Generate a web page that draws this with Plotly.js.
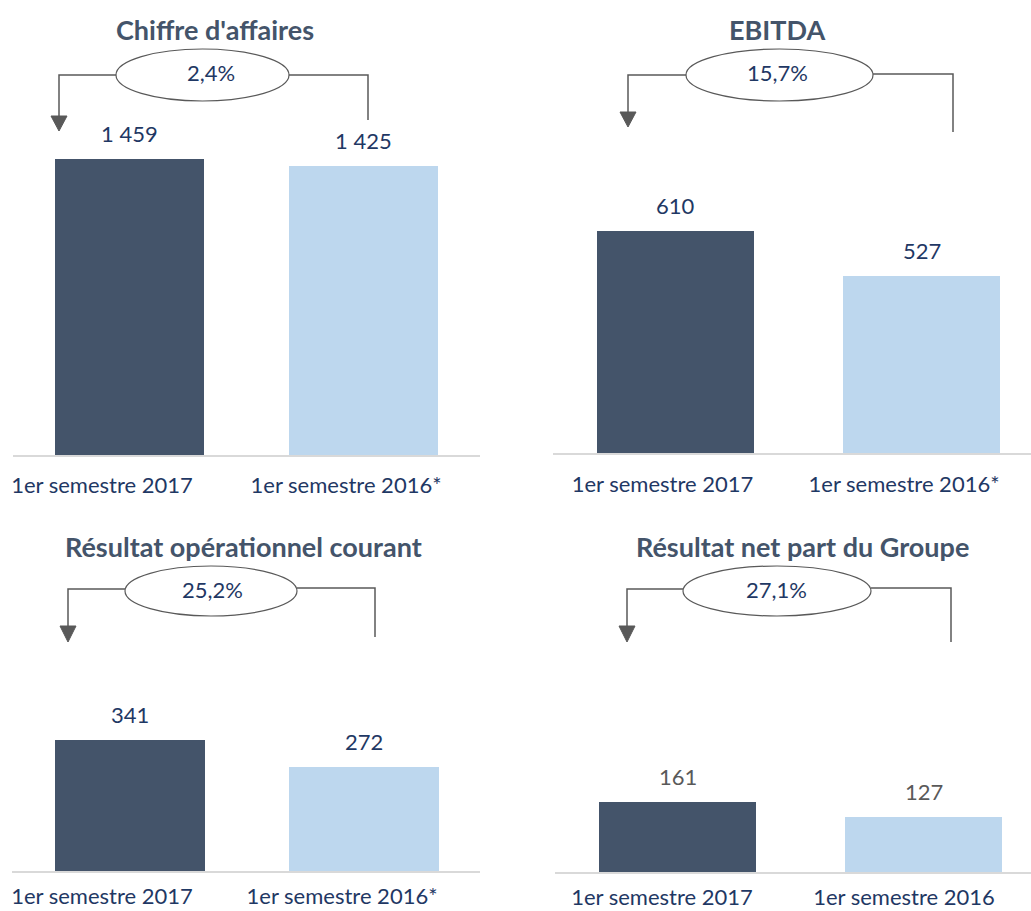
<!DOCTYPE html>
<html><head><meta charset="utf-8">
<script src="https://cdn.plot.ly/plotly-3.0.1.min.js"></script>
<style>html,body{margin:0;padding:0;background:#fff;} #chart{width:1031px;height:911px;}</style>
</head><body><div id="chart"></div>
<script>
// ---- data ----
const categoriesStar = ["1er semestre 2017", "1er semestre 2016*"];
const categoriesPlain = ["1er semestre 2017", "1er semestre 2016"];
const panelTitles = ["Chiffre d'affaires", "EBITDA", "Résultat opérationnel courant", "Résultat net part du Groupe"];
const chiffreAffaires = [1459, 1425];
const ebitda = [610, 527];
const resultatOperationnel = [341, 272];
const resultatNet = [161, 127];
const growthLabels = ["2,4%", "15,7%", "25,2%", "27,1%"];

// ---- layout helpers (pixel -> paper) ----
const W = 1031, H = 911;
const fx = x => x / W;
const fy = y => 1 - y / H;
const FONT = "Lato, 'Open Sans', sans-serif";
const NAVY = '#1F3864';
const SLATE = '#44546A';
const LIGHT = '#BDD7EE';
const GREY = '#595959';

const panels = [
  {cats: categoriesStar, vals: chiffreAffaires, title: panelTitles[0], growth: growthLabels[0],
   dom: [13, 480], labels: [102, 346], barLeft: [55, 289], barW: 149,
   yBottom: 455, yTop: 140, yMin: 0, scale: 0.20285, valColor: NAVY, tickLen: 10,
   titlePos: [215, 29], ell: [116, 289, 49, 101], growthPos: [211, 72],
   left: {x: 59, y: 75, y1: 116, tip: 131}, right: {x: 368, y: 75, y1: 120}},
  {cats: categoriesStar, vals: ebitda, title: panelTitles[1], growth: growthLabels[1],
   dom: [553, 1031], labels: [662.5, 904], barLeft: [597, 843], barW: 157,
   yBottom: 453, yTop: 140, yMin: 200, scale: 0.5415, valColor: NAVY, tickLen: 11,
   titlePos: [777, 29], ell: [686, 873, 49, 101], growthPos: [777, 72],
   left: {x: 628, y: 75, y1: 112, tip: 127}, right: {x: 953, y: 74, y1: 132}},
  {cats: categoriesStar, vals: resultatOperationnel, title: panelTitles[2], growth: growthLabels[2],
   dom: [12, 480], labels: [102, 342], barLeft: [55, 289], barW: 150,
   yBottom: 871, yTop: 650, yMin: 0, scale: 0.3833, valColor: NAVY, tickLen: 5,
   titlePos: [243, 546], ell: [125, 297, 566, 616], growthPos: [212, 589],
   left: {x: 68, y: 589, y1: 626, tip: 642}, right: {x: 375, y: 588, y1: 637}},
  {cats: categoriesPlain, vals: resultatNet, title: panelTitles[3], growth: growthLabels[3],
   dom: [555, 1031], labels: [662, 904], barLeft: [599, 845], barW: 157,
   yBottom: 872, yTop: 650, yMin: 0, scale: 0.434, valColor: GREY, tickLen: 5,
   titlePos: [802, 546], ell: [683, 871, 566, 616], growthPos: [776, 589],
   left: {x: 627, y: 589, y1: 626, tip: 642}, right: {x: 951, y: 588, y1: 642}}
];

const fmt = v => String(v).replace(/\B(?=(\d{3})+(?!\d))/g, ' ');

const traces = [];
const layout = {
  width: W, height: H, margin: {l: 0, r: 0, t: 0, b: 0},
  paper_bgcolor: '#ffffff', plot_bgcolor: 'rgba(0,0,0,0)',
  showlegend: false, bargap: 0, shapes: [], annotations: [],
  font: {family: FONT, color: NAVY}
};

panels.forEach((p, i) => {
  const n = i + 1;
  const xa = 'xaxis' + (n === 1 ? '' : n), ya = 'yaxis' + (n === 1 ? '' : n);
  const xr = 'x' + (n === 1 ? '' : n), yr = 'y' + (n === 1 ? '' : n);
  const unit = p.labels[1] - p.labels[0];
  const offsets = p.barLeft.map((l, k) => (l - p.labels[k]) / unit);
  const width = p.barW / unit;

  traces.push({
    type: 'bar', x: p.cats, y: p.vals, xaxis: xr, yaxis: yr,
    marker: {color: [SLATE, LIGHT], line: {width: 0}},
    width: [width, width], offset: offsets, hoverinfo: 'skip'
  });

  layout[xa] = {
    type: 'category', anchor: yr,
    domain: [fx(p.dom[0]), fx(p.dom[1])],
    range: [-(p.labels[0] - p.dom[0]) / unit, (p.dom[1] - p.labels[0]) / unit],
    showline: true, linecolor: '#D9D9D9', linewidth: 2,
    ticks: 'outside', ticklen: p.tickLen, tickcolor: 'rgba(0,0,0,0)',
    tickfont: {family: FONT, size: 22, color: NAVY},
    showgrid: false, zeroline: false, fixedrange: true
  };
  layout[ya] = {
    anchor: xr,
    domain: [fy(p.yBottom), fy(p.yTop)],
    range: [p.yMin, p.yMin + (p.yBottom - p.yTop) / p.scale],
    visible: false, showgrid: false, zeroline: false, fixedrange: true
  };

  // value labels above bars
  p.vals.forEach((v, k) => {
    layout.annotations.push({
      xref: xr, yref: yr, x: k + offsets[k] + width / 2, y: v,
      text: fmt(v), showarrow: false, xanchor: 'center', yanchor: 'bottom', yshift: 10,
      font: {family: FONT, size: 22, color: p.valColor}
    });
  });

  // title
  layout.annotations.push({
    xref: 'paper', yref: 'paper', x: fx(p.titlePos[0]), y: fy(p.titlePos[1]),
    text: '<b>' + p.title + '</b>', showarrow: false, xanchor: 'center', yanchor: 'middle',
    font: {family: FONT, size: 27, color: SLATE}
  });

  // growth bracket
  const e = p.ell;
  layout.shapes.push({
    type: 'path', xref: 'paper', yref: 'paper',
    path: `M ${fx(e[0])},${fy(p.left.y)} L ${fx(p.left.x)},${fy(p.left.y)} L ${fx(p.left.x)},${fy(p.left.y1)}`,
    line: {color: GREY, width: 1.5}
  });
  layout.shapes.push({
    type: 'path', xref: 'paper', yref: 'paper',
    path: `M ${fx(p.left.x - 8)},${fy(p.left.y1)} L ${fx(p.left.x + 8)},${fy(p.left.y1)} L ${fx(p.left.x)},${fy(p.left.tip)} Z`,
    fillcolor: GREY, line: {color: GREY, width: 1}
  });
  layout.shapes.push({
    type: 'path', xref: 'paper', yref: 'paper',
    path: `M ${fx(e[1])},${fy(p.right.y)} L ${fx(p.right.x)},${fy(p.right.y)} L ${fx(p.right.x)},${fy(p.right.y1)}`,
    line: {color: GREY, width: 1.5}
  });
  layout.shapes.push({
    type: 'circle', xref: 'paper', yref: 'paper',
    x0: fx(e[0]), x1: fx(e[1]), y0: fy(e[3]), y1: fy(e[2]),
    fillcolor: '#ffffff', line: {color: GREY, width: 1.2}
  });
  layout.annotations.push({
    xref: 'paper', yref: 'paper', x: fx(p.growthPos[0]), y: fy(p.growthPos[1]),
    text: p.growth, showarrow: false, xanchor: 'center', yanchor: 'middle',
    font: {family: FONT, size: 22, color: NAVY}
  });
});

Plotly.newPlot('chart', traces, layout, {displayModeBar: false, staticPlot: true});
</script>
</body></html>
